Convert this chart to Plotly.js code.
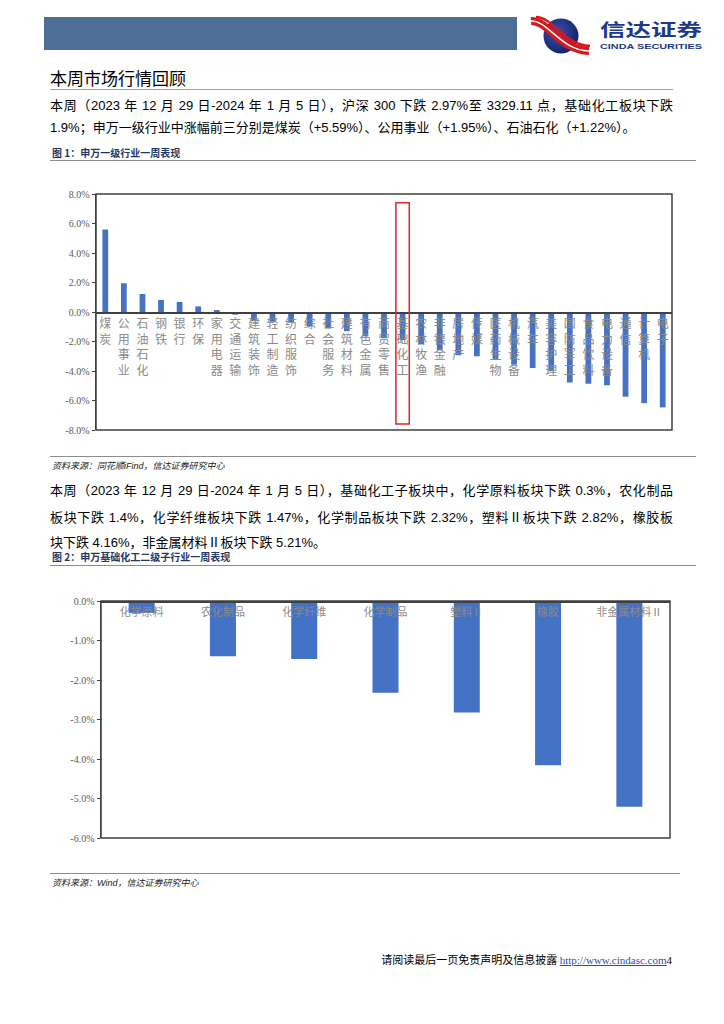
<!DOCTYPE html>
<html>
<head>
<meta charset="utf-8">
<script src="https://cdn.plot.ly/plotly-3.0.1.min.js"></script>
<style>
  html, body { margin:0; padding:0; background:#fff; }
  #page { position:relative; width:724px; height:1024px; overflow:hidden; background:#fff;
          font-family:"Liberation Sans","Noto Sans CJK SC",sans-serif; color:#000; }
  .abs { position:absolute; }
  .para { position:absolute; left:50px; width:623px; font-size:13px; line-height:16px; white-space:nowrap; }
  .just { text-align:justify; text-align-last:justify; }
  .figt { position:absolute; left:52px; font-size:10px; font-weight:bold; color:#1F3864; font-family:"Noto Sans CJK SC",sans-serif; }
  .src { position:absolute; left:52px; font-size:9px; font-style:italic; color:#222; font-family:"Liberation Sans","Noto Sans CJK SC",sans-serif; }
  .hline { position:absolute; height:0; }
</style>
</head>
<body>
<div id="page">
  <svg class="abs" style="left:0;top:0" width="724" height="60">
    <defs>
      <radialGradient id="g1" cx="0.4" cy="0.4" r="0.7">
        <stop offset="0" stop-color="#3b4fa8"/>
        <stop offset="1" stop-color="#0f1f66"/>
      </radialGradient>
      <clipPath id="cc"><rect x="528" y="14" width="64" height="42"/></clipPath>
    </defs>
    <rect x="44" y="17" width="473" height="33" fill="#4D6F97"/>
    <circle cx="561" cy="36" r="17.5" fill="url(#g1)"/>
    <g clip-path="url(#cc)">
      <path d="M531,21 C548,20 560,50 589,51" stroke="#D7191F" stroke-width="8" fill="none"/>
      <path d="M531,21 C548,20 560,50 589,51" stroke="#ffffff" stroke-width="1.4" fill="none"/>
      <path d="M536,17 C553,17 565,46 590,46" stroke="#D7191F" stroke-width="2.5" fill="none"/>
    </g>
    <text x="600" y="36" font-family="Noto Sans CJK SC" font-weight="bold" font-size="17" fill="#1B3A8C" textLength="102" lengthAdjust="spacingAndGlyphs">信达证券</text>
    <text x="600" y="48.5" font-family="Liberation Sans" font-weight="bold" font-size="8" fill="#1B3A8C" textLength="102" lengthAdjust="spacingAndGlyphs">CINDA SECURITIES</text>
  </svg>

  <div class="abs" style="left:50px;top:65px;font-size:17px;font-family:'Noto Sans CJK SC',sans-serif;">本周市场行情回顾</div>
  <div class="hline" style="left:50px;top:89px;width:623px;border-top:1.5px solid #8EA3BC;"></div>

  <div class="para just" style="top:98px;">本周（2023 年 12 月 29 日-2024 年 1 月 5 日），沪深 300 下跌 2.97%至 3329.11 点，基础化工板块下跌</div>
  <div class="para" style="top:120px;">1.9%；申万一级行业中涨幅前三分别是煤炭（+5.59%）、公用事业（+1.95%）、石油石化（+1.22%）。</div>

  <div class="figt" style="top:145px;">图 1：申万一级行业一周表现</div>
  <div class="hline" style="left:50px;top:160px;width:646px;border-top:1.5px solid #8c8c8c;"></div>

  <div id="chart1" class="abs" style="left:0;top:170px;width:724px;height:280px;"></div>

  <div class="hline" style="left:50px;top:456px;width:646px;border-top:1.5px solid #8c8c8c;"></div>
  <div class="src" style="top:459px;">资料来源：同花顺iFind，信达证券研究中心</div>

  <div class="para just" style="top:483px;">本周（2023 年 12 月 29 日-2024 年 1 月 5 日），基础化工子板块中，化学原料板块下跌 0.3%，农化制品</div>
  <div class="para just" style="top:510px;">板块下跌 1.4%，化学纤维板块下跌 1.47%，化学制品板块下跌 2.32%，塑料Ⅱ板块下跌 2.82%，橡胶板</div>
  <div class="para" style="top:535px;">块下跌 4.16%，非金属材料Ⅱ板块下跌 5.21%。</div>

  <div class="figt" style="top:549px;">图 2：申万基础化工二级子行业一周表现</div>
  <div class="hline" style="left:50px;top:565px;width:646px;border-top:1.5px solid #8c8c8c;"></div>

  <div id="chart2" class="abs" style="left:0;top:580px;width:724px;height:280px;"></div>

  <div class="hline" style="left:50px;top:873px;width:630px;border-top:1.5px solid #8c8c8c;"></div>
  <div class="src" style="top:876px;">资料来源：Wind，信达证券研究中心</div>

  <div class="abs" style="right:52px;top:951px;font-size:11px;font-family:'Noto Sans CJK SC',serif;white-space:nowrap;">请阅读最后一页免责声明及信息披露 <span style="font-family:'Liberation Serif';color:#1f4fb5;text-decoration:underline;">http://www.cindasc.com</span><span style="font-family:'Liberation Serif';">4</span></div>
</div>

<script>
// ---------- Data: chart 1 (申万一级行业一周涨跌幅, %) ----------
var industries = ["煤炭","公用事业","石油石化","钢铁","银行","环保","家用电器","交通运输","建筑装饰","轻工制造",
  "纺织服饰","综合","社会服务","建筑材料","有色金属","商贸零售","基础化工","农林牧渔","非银金融","房地产",
  "传媒","医药生物","机械设备","汽车","美容护理","国防军工","食品饮料","电力设备","通信","计算机","电子"];
var industryChange = [5.59,1.95,1.22,0.82,0.68,0.38,0.13,-0.18,-0.62,-0.66,
  -0.72,-0.98,-1.12,-1.30,-1.65,-1.78,-1.90,-2.20,-2.59,-2.93,
  -3.00,-3.18,-3.57,-3.80,-4.02,-4.78,-4.86,-4.97,-5.74,-6.18,-6.47];
var highlightIndustry = "基础化工";
var chart1Ticks = [-8,-6,-4,-2,0,2,4,6,8];

// ---------- Data: chart 2 (基础化工二级子行业, %) ----------
var subIndustries = ["化学原料","农化制品","化学纤维","化学制品","塑料Ⅱ","橡胶","非金属材料Ⅱ"];
var subChange = [-0.30,-1.40,-1.47,-2.32,-2.82,-4.16,-5.21];
var chart2Ticks = [-6,-5,-4,-3,-2,-1,0];

var barColor = "#4472C4";
var axisColor = "#404040";
var tickFont = {family:"Liberation Serif", size:10, color:"#595959"};
var catFont = {family:"Noto Sans CJK SC", size:12, color:"#8a8a8a"};
function pct(v){ return v.toFixed(1) + "%"; }

// chart 1
var hi = industries.indexOf(highlightIndustry);
Plotly.newPlot("chart1", [{
  type:"bar", x:industries, y:industryChange, marker:{color:barColor}, hoverinfo:"skip"
}], {
  width:724, height:280,
  margin:{l:96, r:52, t:24, b:20},
  paper_bgcolor:"rgba(0,0,0,0)", plot_bgcolor:"#fff",
  showlegend:false, bargap:0.69,
  xaxis:{type:"category", anchor:"free", position:0.5, showline:true, linecolor:axisColor, linewidth:1.5,
    tickvals:industries, ticktext:industries.map(function(s){return s.split("").join("<br>");}),
    ticks:"", tickfont:catFont, showgrid:false, zeroline:false, fixedrange:true},
  yaxis:{range:[-8,8], tickmode:"array", tickvals:chart1Ticks, ticktext:chart1Ticks.map(pct), tickfont:tickFont,
    ticks:"outside", ticklen:3, tickcolor:axisColor, showline:true, linecolor:axisColor, linewidth:1.5,
    showgrid:false, zeroline:false, fixedrange:true},
  shapes:[
    {type:"rect", xref:"paper", yref:"paper", x0:0, x1:1, y0:0, y1:1, line:{color:axisColor, width:1.5}},
    {type:"rect", xref:"x", yref:"y", x0:hi-0.36, x1:hi+0.36, y0:-7.6, y1:7.4, line:{color:"#E02626", width:1.5}}
  ]
}, {staticPlot:true});

// chart 2
Plotly.newPlot("chart2", [{
  type:"bar", x:subIndustries, y:subChange, marker:{color:barColor}, hoverinfo:"skip"
}], {
  width:724, height:280,
  margin:{l:101, r:54, t:21, b:22},
  paper_bgcolor:"rgba(0,0,0,0)", plot_bgcolor:"#fff",
  showlegend:false, bargap:0.68,
  xaxis:{type:"category", anchor:"free", position:1, side:"bottom", showline:true, linecolor:axisColor, linewidth:1.5,
    ticks:"", tickfont:{family:"Noto Sans CJK SC", size:11, color:"#8a8a8a"},
    showgrid:false, zeroline:false, fixedrange:true},
  yaxis:{range:[-6,0], tickmode:"array", tickvals:chart2Ticks, ticktext:chart2Ticks.map(pct), tickfont:tickFont,
    ticks:"outside", ticklen:3, tickcolor:axisColor, showline:true, linecolor:axisColor, linewidth:1.5,
    showgrid:false, zeroline:false, fixedrange:true},
  shapes:[
    {type:"rect", xref:"paper", yref:"paper", x0:0, x1:1, y0:0, y1:1, line:{color:axisColor, width:1.5}}
  ]
}, {staticPlot:true});
</script>
</body>
</html>
